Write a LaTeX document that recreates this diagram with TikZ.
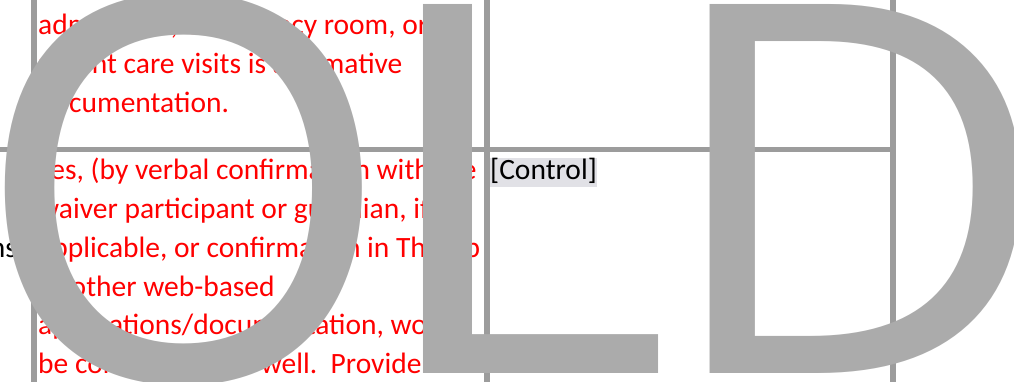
\documentclass[tikz,border=0pt]{standalone}
\usepackage{fontspec}
\setmainfont{Carlito}
\newfontfamily\wmfont{Open Sans}
\newfontfamily\wmfontO{Liberation Sans}
\usepackage{graphicx}
\definecolor{gridgray}{HTML}{9C9C9C}
\definecolor{wmgray}{HTML}{ABABAB}
\definecolor{ccshade}{HTML}{E1E1E6}
\definecolor{txtred}{HTML}{FF0000}
\newsavebox\wmbox
% a watermark letter in font #1, trimmed to its ink and stretched to #3 x #4
\newcommand\wmglyph[4]{%
  \begingroup#1\fontsize{100}{100}\selectfont
  \sbox\wmbox{\kern-\XeTeXglyphbounds1 \XeTeXcharglyph`#2\relax #2\kern-\XeTeXglyphbounds3 \XeTeXcharglyph`#2\relax}%
  \resizebox*{#3}{#4}{\usebox\wmbox}%
  \endgroup}
\tikzset{
  gridline/.style={draw=gridgray, line width=5.6pt},
  redtxt/.style={anchor=base west, inner sep=0pt, text=txtred, font=\fontsize{29.5}{35}\selectfont},
  blacktxt/.style={inner sep=0pt, text=black, font=\fontsize{29.5}{35}\selectfont},
  wm/.style={anchor=south west, inner sep=0pt, text=wmgray},
}
\begin{document}
\begin{tikzpicture}[x=1pt,y=-1pt]
\useasboundingbox (0,0) rectangle (1014,382);
% table grid
\coordinate (v1t) at (34,0);   \coordinate (v1b) at (34,382);
\coordinate (v2t) at (487,0);  \coordinate (v2b) at (487,382);
\coordinate (v3t) at (893,0);  \coordinate (v3b) at (893,382);
\coordinate (h1l) at (0,149.7);  \coordinate (h1r) at (895.8,149.7);
\draw[gridline] (v1t) -- (v1b);
\draw[gridline] (v2t) -- (v2b);
\draw[gridline] (v3t) -- (v3b);
\draw[gridline] (h1l) -- (h1r);
% upper cell text
\node[redtxt] (u1) at (38,34.8) {admissions, emergency room, or};
\node[redtxt] (u2) at (38,73.5) {urgent care visits is affirmative};
\node[redtxt] (u3) at (38,112.2) {documentation.};
% lower cell text
\node[redtxt] (l1) at (38,180) {Yes, (by verbal confirmation with the};
\node[redtxt] (l2) at (38,218.7) {waiver participant or guardian, if};
\node[redtxt] (l3) at (38,257.4) {applicable, or confirmation in Therap};
\node[redtxt] (l4) at (38,296.1) {or other web-based};
\node[redtxt] (l5) at (38,334.8) {applications/documentation, would};
\node[redtxt] (l6) at (38,373.5) {be considered\hspace{15pt} as well.\ \ Provide};
% left column fragment
\node[blacktxt, anchor=base east] (ns) at (17,257.4) {ns};
% content control placeholder
\node[blacktxt, anchor=base west, fill=ccshade, text height=22pt, text depth=7.3pt] (ctl) at (490,180) {[Control]};
% watermark
\node[wm] (wO) at (5,386) {\wmglyph{\wmfontO}{O}{357pt}{393pt}};
\node[wm] (wL) at (423,374) {\wmglyph{\wmfont}{L}{235pt}{369pt}};
\node[wm] (wD) at (710,374) {\wmglyph{\wmfont}{D}{311pt}{369pt}};
\end{tikzpicture}
\end{document}
